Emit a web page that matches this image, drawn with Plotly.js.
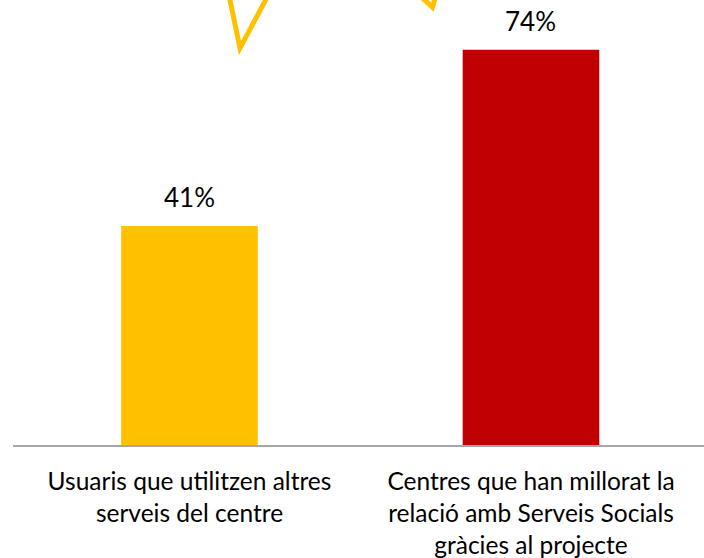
<!DOCTYPE html>
<html>
<head>
<meta charset="utf-8">
<script src="https://cdn.plot.ly/plotly-3.0.1.min.js"></script>
<style>html,body{margin:0;padding:0;background:#fff;}#chart{width:704px;height:558px;}</style>
</head>
<body>
<div id="chart"></div>
<script>
const categories = [
  "Usuaris que utilitzen altres<br>serveis del centre",
  "Centres que han millorat la<br>relació amb Serveis Socials<br>gràcies al projecte"
];
const values = [41, 74];
const valueLabels = ["41%", "74%"];
const barColors = ["#FFC000", "#C00000"];

const FONT = "Lato, 'Open Sans', sans-serif";

const trace = {
  type: "bar",
  x: [0, 1],
  y: values,
  width: 0.4,
  marker: {color: barColors},
  hoverinfo: "none"
};

const annotations = values.map((v, i) => ({
  x: i, y: v, xref: "x", yref: "y",
  text: valueLabels[i], showarrow: false,
  yanchor: "bottom", yshift: 11,
  font: {family: FONT, size: 26, color: "#000"}
}));

const shapes = [
  {type: "path", xref: "paper", yref: "paper",
   path: "M 0.3126 1.01 L 0.3285 0.892 L 0.369 1.01",
   line: {color: "#FFC000", width: 5}},
  {type: "path", xref: "paper", yref: "paper",
   path: "M 0.592 1.005 L 0.607 0.984 L 0.611 1.005",
   line: {color: "#FFC000", width: 5}}
];

const layout = {
  width: 704, height: 558,
  margin: {l: 13, r: 0, t: 0, b: 113},
  paper_bgcolor: "#fff", plot_bgcolor: "#fff",
  showlegend: false,
  xaxis: {
    range: [-0.5168, 1.5066],
    tickvals: [0, 1], ticktext: categories,
    showgrid: false, zeroline: false,
    showline: true, linecolor: "#A6A6A6", linewidth: 2,
    ticks: "", ticklen: 0,
    ticklabelstandoff: 14,
    tickfont: {family: FONT, size: 24.5, color: "#000"}
  },
  yaxis: {
    range: [0, 83.3],
    showgrid: false, zeroline: false, showline: false,
    showticklabels: false, ticks: ""
  },
  annotations: annotations,
  shapes: shapes,
  font: {family: FONT}
};

Plotly.newPlot("chart", [trace], layout, {displayModeBar: false, staticPlot: true});
</script>
</body>
</html>
